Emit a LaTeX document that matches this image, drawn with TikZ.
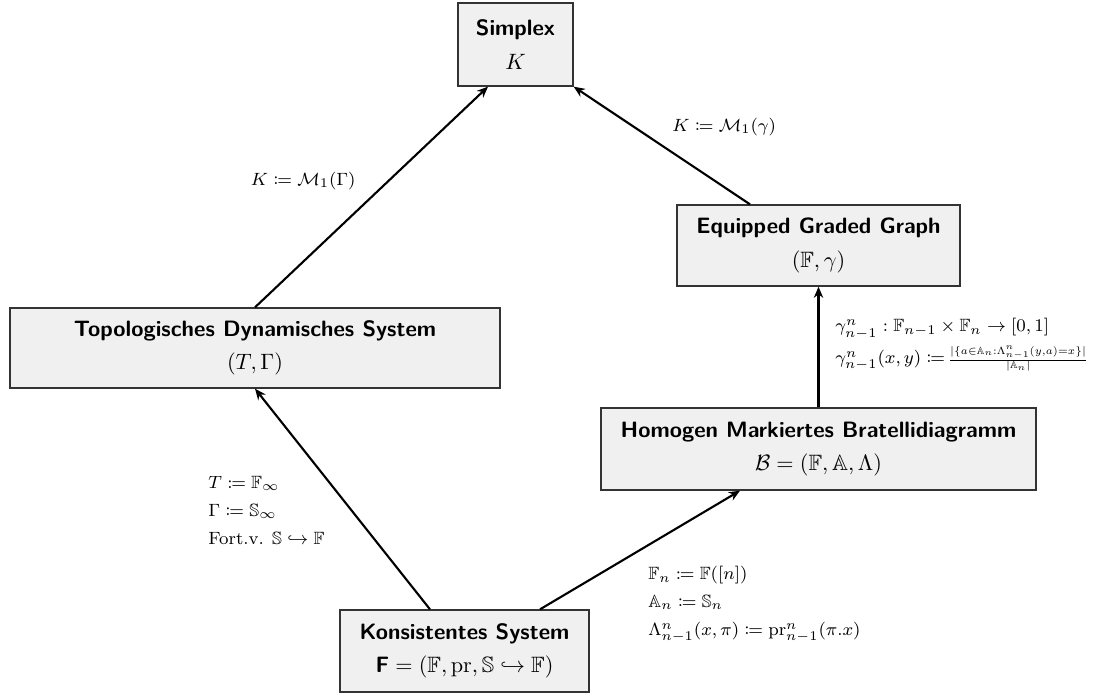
\documentclass[tikz,border=0pt]{standalone}
\usepackage{amssymb,mathtools,graphicx}
\usetikzlibrary{arrows.meta}
\begin{document}
\begin{tikzpicture}[x=0.45pt,y=-0.45pt,
  box/.style={draw=black!80,fill=black!6,line width=0.6pt,align=center,inner sep=2pt},
  arr/.style={-{Stealth[length=5pt,width=4.2pt]},line width=0.95pt},
  lbl/.style={font=\footnotesize,align=left,inner sep=0pt}]
\useasboundingbox (0,0) rectangle (1097,695);
\node[box,minimum width=115*0.45pt,minimum height=83*0.45pt] (S) at (515.5,44.5) {\textsf{\textbf{Simplex}}\\[3pt]$K$};
\node[box,minimum width=283*0.45pt,minimum height=81*0.45pt] (E) at (818.5,245.5) {\textsf{\textbf{Equipped Graded Graph}}\\[3pt]$(\mathbb{F},\gamma)$};
\node[box,minimum width=490*0.45pt,minimum height=80*0.45pt] (T) at (255,348) {\textsf{\textbf{Topologisches Dynamisches System}}\\[3pt]$(T,\Gamma)$};
\node[box,minimum width=435*0.45pt,minimum height=82*0.45pt] (H) at (818.5,449) {\textsf{\textbf{Homogen Markiertes Bratellidiagramm}}\\[3pt]$\mathcal{B}=(\mathbb{F},\mathbb{A},\Lambda)$};
\node[box,minimum width=249*0.45pt,minimum height=82*0.45pt] (K) at (464.5,651) {\textsf{\textbf{Konsistentes System}}\\[3pt]$\textsf{\textbf{F}}=(\mathbb{F},\mathrm{pr},\mathbb{S}\hookrightarrow\mathbb{F})$};

\draw[arr] (K.north -| 430,0) -- (T.south -| 255,0);
\draw[arr] (K.north -| 540,0) -- (H.south -| 740,0);
\draw[arr] (H.north) -- (E.south);
\draw[arr] (T.north) -- (S.south -| 488,0);
\draw[arr] (E.north -| 750,0) -- (S.south east);

\node[lbl,anchor=east] (l1) at (356,181) {$K\coloneqq\mathcal{M}_1(\Gamma)$};
\node[lbl,anchor=west] (l2) at (672,127) {$K\coloneqq\mathcal{M}_1(\gamma)$};
\node[lbl,anchor=north west] (l3) at (208,476) {$T\coloneqq\mathbb{F}_\infty$\\[3pt]$\Gamma\coloneqq\mathbb{S}_\infty$\\[3pt]Fort.v. $\mathbb{S}\hookrightarrow\mathbb{F}$};
\node[lbl,anchor=north west] (l4) at (648,566) {$\mathbb{F}_n\coloneqq\mathbb{F}([n])$\\[3pt]$\mathbb{A}_n\coloneqq\mathbb{S}_n$\\[3pt]$\Lambda^n_{n-1}(x,\pi)\coloneqq\mathrm{pr}^n_{n-1}(\pi.x)$};
\node[lbl,anchor=north west] (l5) at (835,318) {$\gamma^n_{n-1}:\mathbb{F}_{n-1}\times\mathbb{F}_n\to[0,1]$\\[2pt]$\gamma^n_{n-1}(x,y)\coloneqq$\,\resizebox{63pt}{!}{$\frac{|\{a\in\mathbb{A}_n:\Lambda^n_{n-1}(y,a)=x\}|}{|\mathbb{A}_n|}$}};
\end{tikzpicture}
\end{document}
